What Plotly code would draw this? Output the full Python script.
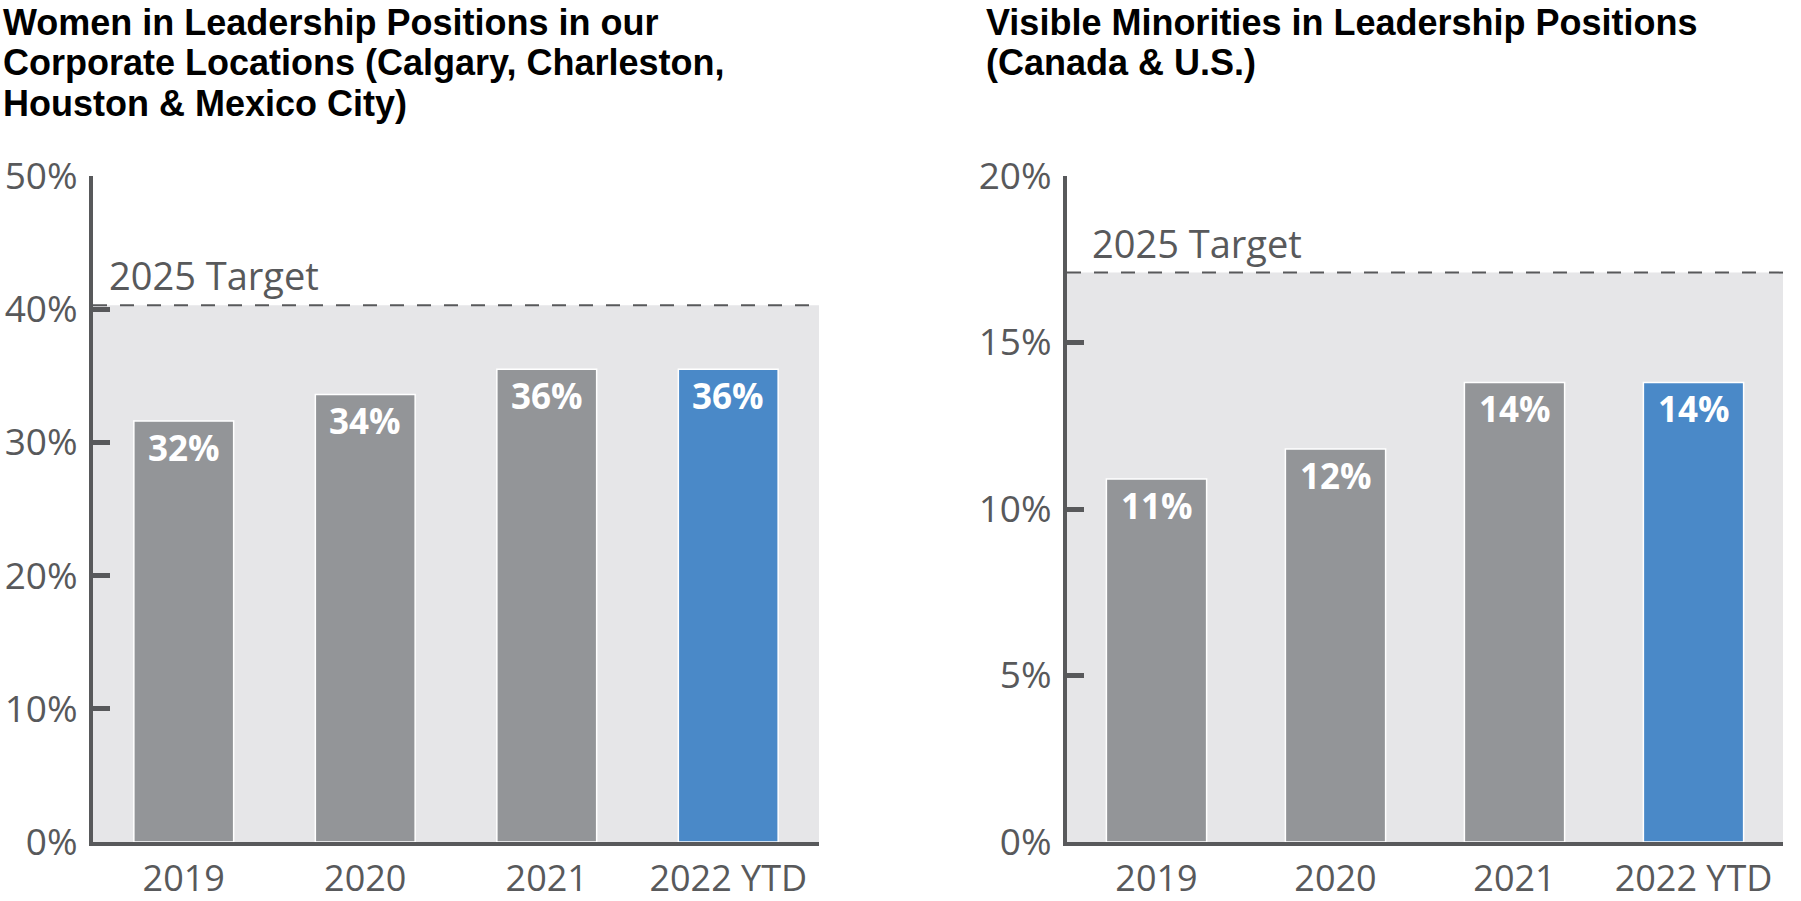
import plotly.graph_objects as go

categories = ["2019", "2020", "2021", "2022 YTD"]

women_values = [31.6, 33.6, 35.5, 35.5]
women_labels = ["32%", "34%", "36%", "36%"]
women_target = 40.3
women_ticks = [0, 10, 20, 30, 40, 50]
women_ticktext = ["0%", "10%", "20%", "30%", "40%", "50%"]

minority_values = [10.9, 11.8, 13.8, 13.8]
minority_labels = ["11%", "12%", "14%", "14%"]
minority_target = 17.1
minority_ticks = [0, 5, 10, 15, 20]
minority_ticktext = ["0%", "5%", "10%", "15%", "20%"]

title_left_lines = ["Women in Leadership Positions in our",
                    "Corporate Locations (Calgary, Charleston,",
                    "Houston &amp; Mexico City)"]
title_right_lines = ["Visible Minorities in Leadership Positions",
                     "(Canada &amp; U.S.)"]
target_label = "2025 Target"

GRAY_BAR = "#939598"
BLUE_BAR = "#4a89c8"
BG = "#e6e6e8"
AXIS = "#58595b"
FONT = "Open Sans"
TITLE_FONT = "Liberation Sans"

W, H = 1801, 901

bar_colors = [GRAY_BAR, GRAY_BAR, GRAY_BAR, BLUE_BAR]


def px_x(v):
    return v / W


def px_y(v):
    return 1 - v / H


fig = go.Figure()

fig.add_trace(go.Bar(x=categories, y=women_values,
                     marker=dict(color=bar_colors, line=dict(color="white", width=1.5)),
                     width=0.55, xaxis="x", yaxis="y", hoverinfo="skip"))
fig.add_trace(go.Bar(x=categories, y=minority_values,
                     marker=dict(color=bar_colors, line=dict(color="white", width=1.5)),
                     width=0.56, xaxis="x2", yaxis="y2", hoverinfo="skip"))

ydom = [px_y(842), px_y(176)]
xdom1 = [px_x(93), px_x(819)]
xdom2 = [px_x(1067), px_x(1783)]

xaxis_common = dict(type="category", range=[-0.5, 3.5], showline=True, linewidth=4, linecolor=AXIS,
                    ticks="", showgrid=False, zeroline=False, ticklabelstandoff=2, automargin=False,
                    tickfont=dict(family=FONT, size=36, color=AXIS), fixedrange=True)
yaxis_common = dict(showline=True, linewidth=4, linecolor=AXIS, ticks="inside", ticklen=17, tickwidth=5,
                    tickcolor=AXIS, showgrid=False, zeroline=False, ticklabelstandoff=4, automargin=False,
                    tickfont=dict(family=FONT, size=37, color=AXIS), fixedrange=True)

fig.update_layout(
    width=W, height=H,
    margin=dict(l=0, r=0, t=0, b=0, autoexpand=False),
    paper_bgcolor="white", plot_bgcolor="white",
    showlegend=False, bargap=0,
    xaxis=dict(domain=xdom1, anchor="y", **xaxis_common),
    yaxis=dict(domain=ydom, anchor="x", range=[0, 50], tickvals=women_ticks,
               ticktext=women_ticktext, **yaxis_common),
    xaxis2=dict(domain=xdom2, anchor="y2", **xaxis_common),
    yaxis2=dict(domain=ydom, anchor="x2", range=[0, 20], tickvals=minority_ticks,
                ticktext=minority_ticktext, **yaxis_common),
)

shapes = []
annotations = []
for xa, ya, tgt, vals, labels, tx in [("x", "y", women_target, women_values, women_labels, 14),
                                      ("x2", "y2", minority_target, minority_values, minority_labels, 23)]:
    shapes.append(dict(type="rect", xref=f"{xa} domain", yref=ya, x0=0, x1=1, y0=0, y1=tgt,
                       fillcolor=BG, line=dict(width=0), layer="below"))
    shapes.append(dict(type="line", xref=f"{xa} domain", yref=ya, x0=0, x1=1, y0=tgt, y1=tgt,
                       line=dict(color=AXIS, width=2, dash="14px,13px"), layer="above"))
    annotations.append(dict(xref=f"{xa} domain", yref=ya, x=0, y=tgt, yanchor="bottom", xanchor="left",
                            xshift=tx, yshift=2, text=target_label, showarrow=False,
                            font=dict(family=FONT, size=38, color=AXIS)))
    for i, (v, lab) in enumerate(zip(vals, labels)):
        annotations.append(dict(xref=xa, yref=ya, x=i, y=v, yanchor="top", xanchor="center", yshift=-1,
                                text=f"<b>{lab}</b>", showarrow=False,
                                font=dict(family=FONT, size=35, color="white")))

title_tops = [0, 40.5, 81]
for line, top in zip(title_left_lines, title_tops):
    annotations.append(dict(xref="paper", yref="paper", x=px_x(1), y=px_y(top), xanchor="left", yanchor="top",
                            align="left", text=f"<b>{line}</b>", showarrow=False,
                            font=dict(family=TITLE_FONT, size=36, color="black")))
for line, top in zip(title_right_lines, title_tops):
    annotations.append(dict(xref="paper", yref="paper", x=px_x(984), y=px_y(top), xanchor="left", yanchor="top",
                            align="left", text=f"<b>{line}</b>", showarrow=False,
                            font=dict(family=TITLE_FONT, size=36, color="black")))

fig.update_layout(shapes=shapes, annotations=annotations)

fig.write_html("out.html", config={"displayModeBar": False, "staticPlot": True},
               post_script="document.body.style.margin='0px';document.body.style.overflow='hidden';")
